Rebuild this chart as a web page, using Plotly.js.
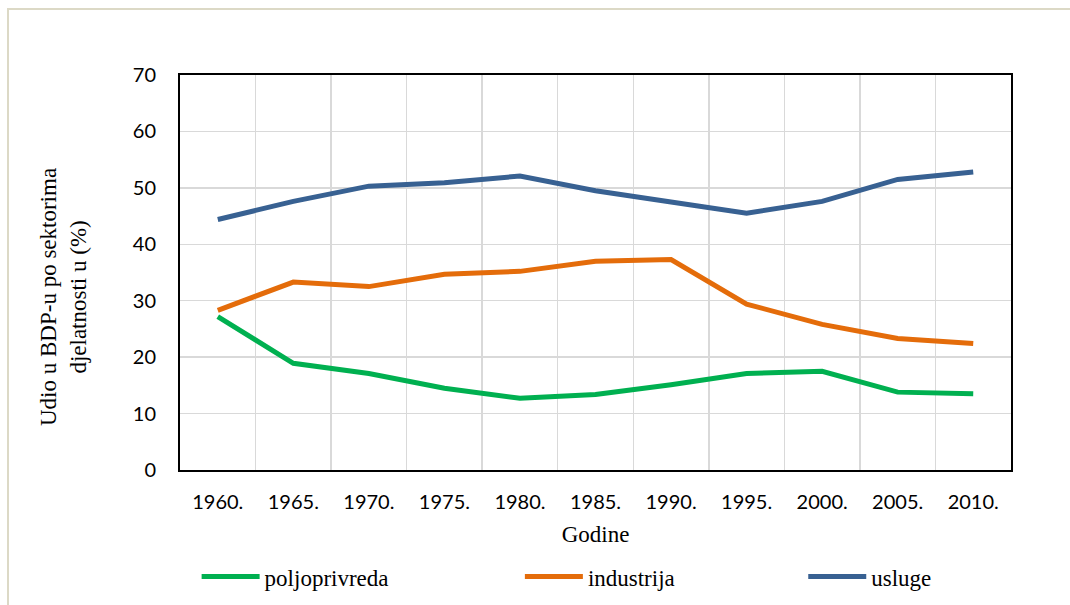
<!DOCTYPE html>
<html>
<head>
<meta charset="utf-8">
<script src="https://cdn.plot.ly/plotly-3.0.1.min.js"></script>
<style>
  html, body { margin: 0; padding: 0; background: #ffffff; }
  #wrap { position: relative; width: 1070px; height: 605px; }
  #chart { width: 1070px; height: 605px; }
  #frame { position: absolute; left: 7px; top: 8px; width: 1063px; height: 597px;
           border-left: 2px solid #dcd9c6; border-top: 2px solid #dcd9c6;
           box-sizing: border-box; pointer-events: none; }
</style>
</head>
<body>
<div id="wrap">
  <div id="chart"></div>
  <div id="frame"></div>
</div>
<script>
const years = ["1960.", "1965.", "1970.", "1975.", "1980.", "1985.", "1990.", "1995.", "2000.", "2005.", "2010."];
const poljoprivreda = [27.2, 18.9, 17.1, 14.5, 12.7, 13.4, 15.1, 17.1, 17.5, 13.8, 13.5];
const industrija = [28.3, 33.3, 32.5, 34.7, 35.2, 37.0, 37.3, 29.4, 25.8, 23.3, 22.4];
const usluge = [44.4, 47.6, 50.3, 50.9, 52.1, 49.5, 47.5, 45.5, 47.6, 51.5, 52.8];
const seriesNames = ["poljoprivreda", "industrija", "usluge"];
const yTitle = "Udio u BDP-u po sektorima<br>djelatnosti u (%)";
const xTitle = "Godine";

const idx = years.map((_, i) => i);
const colors = ["#00b050", "#e46c0a", "#386192"];
const serif = "Liberation Serif, Times New Roman, serif";
const sans = "Lato, Open Sans, sans-serif";

const data = [poljoprivreda, industrija, usluge].map((vals, k) => ({
  type: "scatter",
  mode: "lines",
  x: idx,
  y: vals,
  name: seriesNames[k],
  legend: k === 0 ? "legend" : "legend" + (k + 1),
  line: { color: colors[k], width: 5 },
  hoverinfo: "x+y"
}));

const legendBase = {
  orientation: "h",
  yanchor: "middle",
  y: -0.27,
  xanchor: "left",
  itemwidth: 58,
  font: { family: serif, size: 23, color: "#000000" },
  bgcolor: "rgba(0,0,0,0)"
};

const layout = {
  width: 1070,
  height: 605,
  margin: { l: 180, r: 59, t: 75, b: 135, autoexpand: false },
  paper_bgcolor: "#ffffff",
  plot_bgcolor: "#ffffff",
  showlegend: true,
  xaxis: {
    type: "linear",
    range: [-0.5, 10.5],
    tickmode: "array",
    tickvals: idx,
    ticktext: years,
    showgrid: false,
    zeroline: false,
    showline: true,
    mirror: true,
    linecolor: "#000000",
    linewidth: 2,
    ticks: "",
    ticklabelstandoff: 13,
    tickfont: { family: sans, size: 20, color: "#000000" },
    minor: { tickmode: "linear", tick0: 0.5, dtick: 1, showgrid: true, gridcolor: "#d9d9d9", gridwidth: 1.5, ticks: "" },
    title: { text: xTitle, font: { family: serif, size: 23, color: "#000000" }, standoff: 14 }
  },
  yaxis: {
    range: [0, 70],
    tickmode: "linear",
    tick0: 0,
    dtick: 10,
    showgrid: true,
    gridcolor: "#d9d9d9",
    gridwidth: 1.5,
    zeroline: false,
    showline: true,
    mirror: true,
    linecolor: "#000000",
    linewidth: 2,
    ticks: "",
    ticklabelstandoff: 18,
    tickfont: { family: sans, size: 20, color: "#000000" },
    title: { text: "" }
  },
  annotations: [{
    text: yTitle,
    xref: "paper", yref: "paper",
    x: (63 - 180) / 831, y: (470 - 297) / 395,
    xanchor: "center", yanchor: "middle",
    textangle: -90,
    showarrow: false,
    font: { family: serif, size: 23, color: "#000000" }
  }],
  legend: Object.assign({}, legendBase, { x: 0.020 }),
  legend2: Object.assign({}, legendBase, { x: 0.409 }),
  legend3: Object.assign({}, legendBase, { x: 0.750 })
};

Plotly.newPlot("chart", data, layout, { displayModeBar: false, staticPlot: true });
</script>
</body>
</html>
